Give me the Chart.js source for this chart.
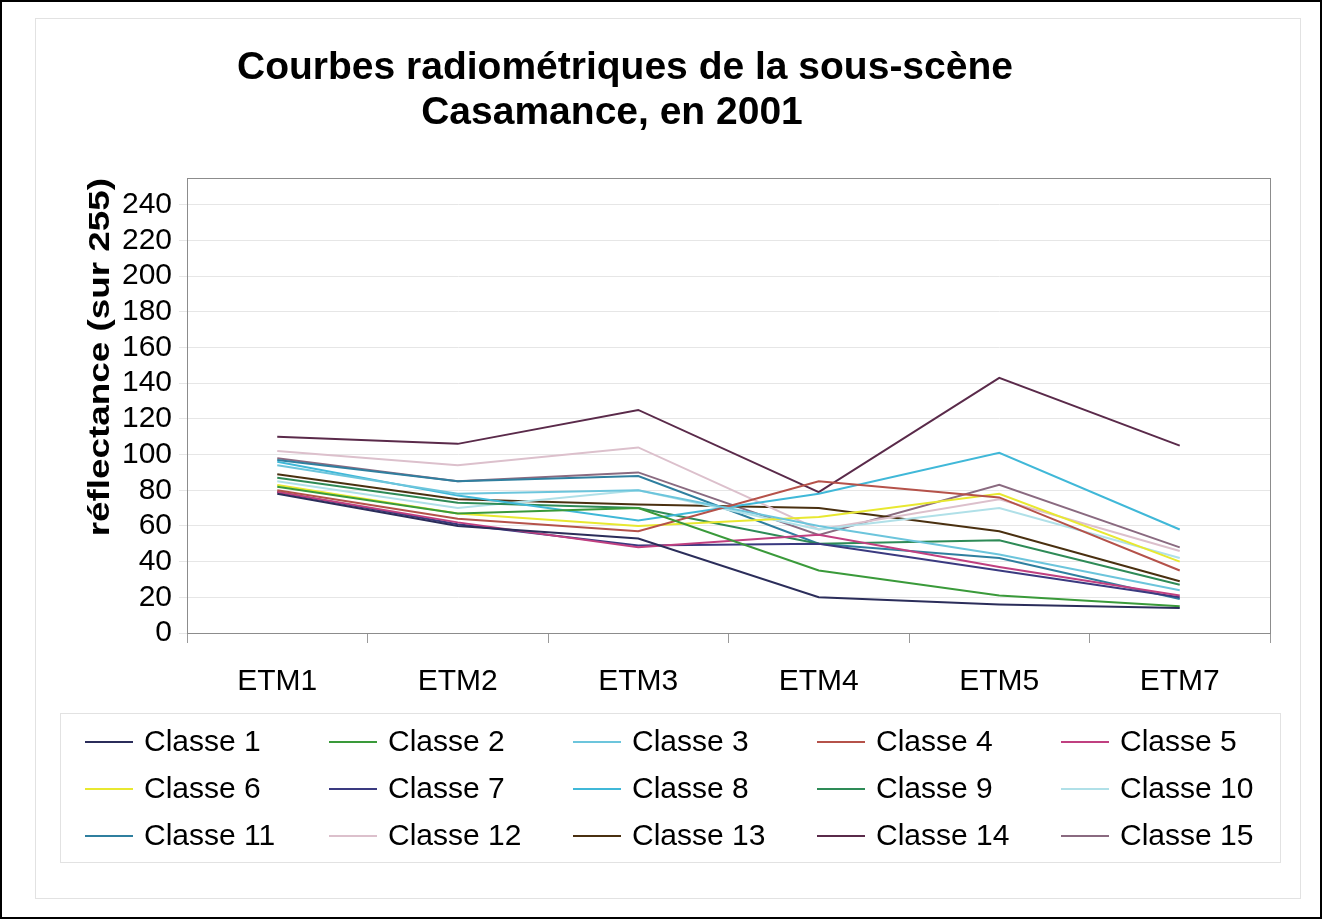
<!DOCTYPE html>
<html>
<head>
<meta charset="utf-8">
<script src="https://cdn.jsdelivr.net/npm/chart.js@4.4.0/dist/chart.umd.min.js"></script>
<style>
  html, body { margin: 0; padding: 0; background: #fff; }
  #graphique { display: block; }
</style>
</head>
<body>
<canvas id="graphique" width="1322" height="919"></canvas>
<script>
// bandes ETM et valeurs
const bandes = ['ETM1', 'ETM2', 'ETM3', 'ETM4', 'ETM5', 'ETM7'];
const classe1  = [78, 60, 53, 20, 16, 14];
const classe2  = [82, 67, 70, 35, 21, 15];
const classe3  = [94, 78, 80, 60, 44, 24];
const classe4  = [80, 64, 57, 85, 76, 35];
const classe5  = [79, 62, 48, 55, 37, 21];
const classe6  = [83, 67, 60, 65, 78, 40];
const classe7  = [79, 61, 49, 50, 35, 20];
const classe8  = [96, 77, 63, 78, 101, 58];
const classe9  = [87, 73, 70, 50, 52, 27];
const classe10 = [85, 70, 80, 58, 70, 42];
const classe11 = [97, 85, 88, 50, 42, 19];
const classe12 = [102, 94, 104, 58, 75, 46];
const classe13 = [89, 75, 72, 70, 57, 29];
const classe14 = [110, 106, 125, 79, 143, 105];
const classe15 = [98, 85, 90, 55, 83, 48];
const graduations = [0, 20, 40, 60, 80, 100, 120, 140, 160, 180, 200, 220, 240];

const series = [classe1, classe2, classe3, classe4, classe5, classe6, classe7, classe8,
                classe9, classe10, classe11, classe12, classe13, classe14, classe15];
const couleurs = ['#2b2d5a', '#3a9a3a', '#6cc5dc', '#b5524a', '#c04080',
                  '#e8e830', '#3a3a80', '#40b8d8', '#2e8b57', '#b0e0e8',
                  '#2f7f9f', '#dcc0cc', '#4a3010', '#5a2a4a', '#8a6a80'];

const police = '"Liberation Sans", Arial, sans-serif';

// cadres, titres et légende dessinés à la main
const decor = {
    id: 'decor',
    beforeDraw(chart) {
        const ctx = chart.ctx;
        ctx.save();
        ctx.fillStyle = '#fff';
        ctx.fillRect(0, 0, chart.width, chart.height);
        ctx.strokeStyle = '#000';
        ctx.lineWidth = 2;
        ctx.strokeRect(1, 1, chart.width - 2, chart.height - 2);
        ctx.strokeStyle = '#e2e2e2';
        ctx.lineWidth = 1;
        ctx.strokeRect(35.5, 18.5, 1265, 880);
        ctx.strokeRect(60.5, 713.5, 1220, 149);

        ctx.fillStyle = '#000';
        ctx.font = 'bold 39px ' + police;
        ctx.textAlign = 'center';
        ctx.textBaseline = 'middle';
        ctx.fillText('Courbes radiométriques de la sous-scène', 625, 68);
        ctx.fillText('Casamance, en 2001', 612, 113);

        // titre de l'axe vertical, allongé comme sur la figure
        ctx.translate(101, chart.chartArea.top);
        ctx.rotate(-Math.PI / 2);
        ctx.scale(1.27, 1);
        ctx.font = 'bold 29px ' + police;
        ctx.textAlign = 'right';
        ctx.fillText('réflectance (sur 255)', 0, 0);
        ctx.restore();
    },
    beforeDatasetsDraw(chart) {
        const a = chart.chartArea;
        const ctx = chart.ctx;
        ctx.save();
        ctx.strokeStyle = '#8c8c8c';
        ctx.lineWidth = 1;
        ctx.strokeRect(a.left + 0.5, a.top + 0.5, a.right - a.left, a.bottom - a.top);
        ctx.restore();
    },
    afterDraw(chart) {
        const ctx = chart.ctx;
        ctx.save();
        ctx.font = '30px ' + police;
        ctx.textBaseline = 'middle';
        ctx.textAlign = 'left';
        chart.data.datasets.forEach((ds, i) => {
            const x = 85 + (i % 5) * 244;
            const y = 742 + Math.floor(i / 5) * 47;
            ctx.strokeStyle = ds.borderColor;
            ctx.lineWidth = 2;
            ctx.beginPath();
            ctx.moveTo(x, y);
            ctx.lineTo(x + 48, y);
            ctx.stroke();
            ctx.fillStyle = '#000';
            ctx.fillText(ds.label, x + 59, y + 1);
        });
        ctx.restore();
    }
};

new Chart(document.getElementById('graphique'), {
    type: 'line',
    data: {
        labels: bandes,
        datasets: series.map((s, i) => ({
            label: 'Classe ' + (i + 1),
            data: s,
            borderColor: couleurs[i],
            backgroundColor: couleurs[i],
            borderWidth: 2,
            pointRadius: 0,
            tension: 0,
            fill: false
        }))
    },
    options: {
        responsive: false,
        animation: false,
        layout: { padding: { left: 60, right: 52, top: 178, bottom: 226 } },
        plugins: {
            legend: { display: false },
            title: { display: false },
            tooltip: { enabled: false }
        },
        scales: {
            x: {
                offset: true,
                afterFit: s => { s.height = 60; },
                grid: { offset: true, drawOnChartArea: false, drawTicks: true, tickLength: 10, color: '#9a9a9a' },
                border: { color: '#8c8c8c' },
                ticks: { color: '#000', font: { family: police, size: 30 }, padding: 21, maxRotation: 0, autoSkip: false }
            },
            y: {
                min: 0,
                max: 255,
                afterFit: s => { s.width = 127; },
                afterBuildTicks: s => { s.ticks = graduations.map(v => ({ value: v })); },
                grid: { color: '#e6e6e6', tickLength: 8 },
                border: { color: '#8c8c8c' },
                ticks: { color: '#000', font: { family: police, size: 30 }, padding: 7, autoSkip: false }
            }
        }
    },
    plugins: [decor]
});
</script>
</body>
</html>
